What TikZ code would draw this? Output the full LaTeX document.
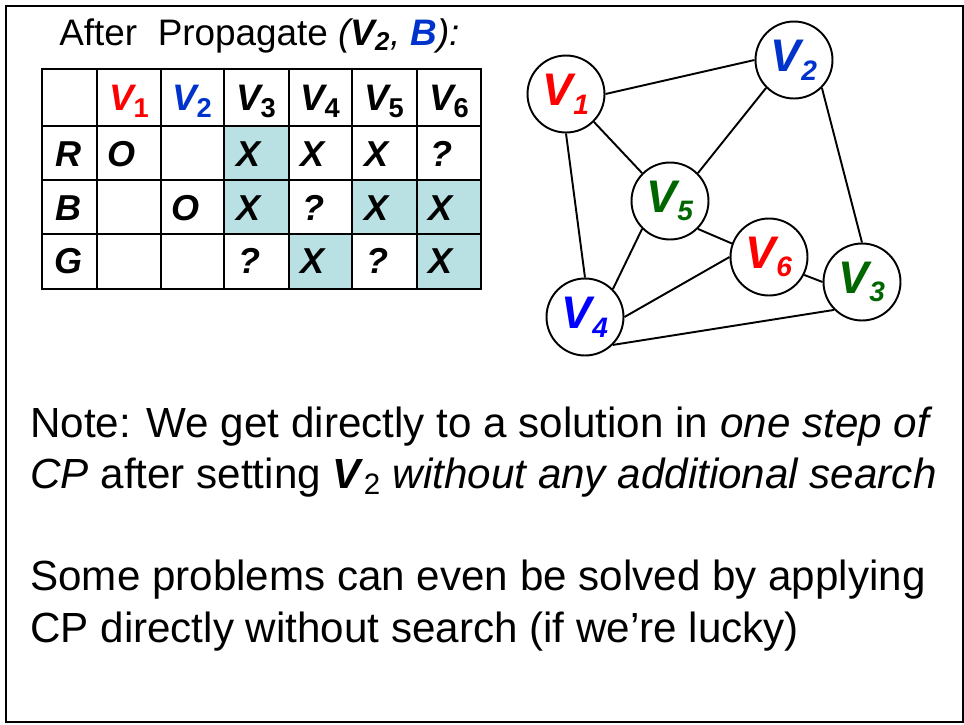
\documentclass[tikz,border=0pt]{standalone}
\usepackage{fontspec}
\setmainfont{Liberation Sans}
\usepackage{xcolor}
\usepackage{tikz}
\usetikzlibrary{positioning}

\definecolor{vred}{RGB}{255,0,0}
\definecolor{vblue}{RGB}{0,51,204}
\definecolor{vpure}{RGB}{0,0,255}
\definecolor{vgreen}{RGB}{0,102,0}
\definecolor{cellfill}{RGB}{185,224,226}

\newcommand{\tabvar}[2]{{\color{#1}\bfseries\itshape V\raisebox{-4.5pt}{\fontsize{15.5}{15.5}\selectfont\upshape #2}}}
\newcommand{\graphvar}[2]{{\color{#1}\bfseries\itshape V\raisebox{-5pt}{\fontsize{16}{16}\selectfont #2}}}

\begin{document}
\begin{tikzpicture}[
    x=0.02cm, y=-0.02cm,
    title/.style={anchor=base west, inner sep=0, font=\fontsize{21}{21}\selectfont},
    cell/.style={anchor=base, inner sep=0, font=\fontsize{20.5}{20.5}\selectfont\bfseries\itshape},
    head/.style={anchor=base, inner sep=0, font=\fontsize{21}{21}\selectfont},
    vertex/.style={draw, circle, line width=1.1pt, fill=white, inner sep=0,
                   minimum size=1.54cm, font=\fontsize{26}{26}\selectfont},
    edge/.style={line width=1.1pt},
    note/.style={anchor=base west, inner sep=0, font=\fontsize{24}{24}\selectfont}
]
\useasboundingbox (0,0) rectangle (964,724);
\draw[line width=1.1pt] (6,6) rectangle (963,722);

\node[title] (title) at (59,45) {After\ \ Propagate \textit{(\textbf{V}\textsubscript{\textbf{2}}, \textbf{\textcolor{vblue}{B}}):}};

% domain table
\fill[cellfill] (224,126) rectangle (289,234);
\fill[cellfill] (352,180) rectangle (481,234);
\fill[cellfill] (289,234) rectangle (352,289);
\fill[cellfill] (417,234) rectangle (481,289);
\draw[line width=0.85pt] (97,69) -- (97,289) (161,69) -- (161,289) (224,69) -- (224,289)
  (289,69) -- (289,289) (352,69) -- (352,289) (417,69) -- (417,289)
  (42,126) -- (481,126) (42,180) -- (481,180) (42,234) -- (481,234);
\draw[line width=1.7pt] (42,69) rectangle (481,289);

\node[head] (h1) at (129,110) {\tabvar{vred}{1}};
\node[head] (h2) at (192,110) {\tabvar{vblue}{2}};
\node[head] (h3) at (256,110) {\tabvar{black}{3}};
\node[head] (h4) at (320,110) {\tabvar{black}{4}};
\node[head] (h5) at (384,110) {\tabvar{black}{5}};
\node[head] (h6) at (449,110) {\tabvar{black}{6}};

\node[cell] (rR) at (69,166) {R};
\node[cell] (rB) at (69,220) {B};
\node[cell] (rG) at (69,273) {G};

\node[cell] (r1) at (122,166) {O};
\node[cell] (r3) at (249,166) {X};
\node[cell] (r4) at (313,166) {X};
\node[cell] (r5) at (377,166) {X};
\node[cell] (r6) at (441,166) {?};

\node[cell] (b2) at (186,220) {O};
\node[cell] (b3) at (249,220) {X};
\node[cell] (b4) at (313,220) {?};
\node[cell] (b5) at (377,220) {X};
\node[cell] (b6) at (441,220) {X};

\node[cell] (g3) at (249,273) {?};
\node[cell] (g4) at (313,273) {X};
\node[cell] (g5) at (377,273) {?};
\node[cell] (g6) at (441,273) {X};

% constraint graph
\node[vertex] (v1) at (566,94) {\graphvar{vred}{1}};
\node[vertex] (v2) at (794,60) {\graphvar{vblue}{2}};
\node[vertex] (v5) at (670,201) {\graphvar{vgreen}{5}};
\node[vertex] (v6) at (769,257) {\graphvar{vred}{6}};
\node[vertex] (v3) at (862,282) {\graphvar{vgreen}{3}};
\node[vertex] (v4) at (585,317) {\graphvar{vpure}{4}};

\draw[edge] (v1.east) -- (v2.west);
\draw[edge] (v1.south east) -- (v5.north west);
\draw[edge] (v1.south) -- (v4.north);
\draw[edge] (v2.south west) -- (v5.north east);
\draw[edge] (v2.south east) -- (v3.north);
\draw[edge] (v5.south west) -- (v4.north east);
\draw[edge] (v5.south east) -- (v6.160);
\draw[edge] (v6.west) -- (v4.east);
\draw[edge] (v6.-27) -- (v3.west);
\draw[edge] (v4.south east) -- (v3.south west);

% notes
\node[note] (note1) at (30,437) {Note: We get directly to a solution in \textit{one step of}};
\node[note] (note2) at (30,488) {\textit{CP} after setting \textbf{\textit{V}}\textsubscript{2} \textit{without any additional search}};
\node[note] (lucky1) at (30,590) {Some problems can even be solved by applying};
\node[note] (lucky2) at (30,642) {CP directly without search (if we’re lucky)};
\end{tikzpicture}
\end{document}
